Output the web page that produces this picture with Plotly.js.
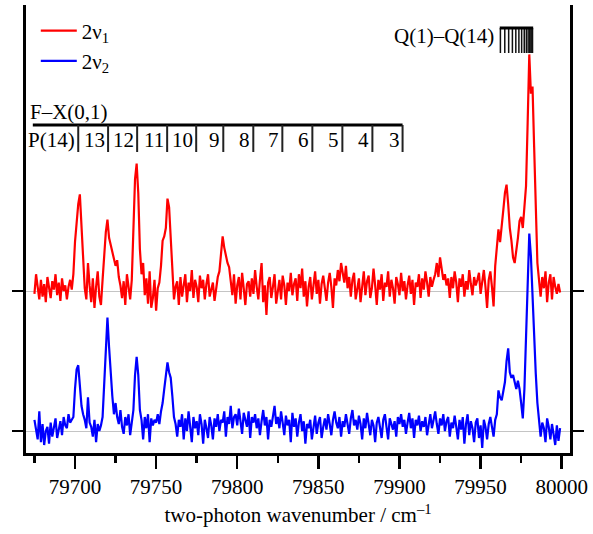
<!DOCTYPE html>
<html>
<head>
<meta charset="utf-8">
<script src="https://cdn.plot.ly/plotly-3.0.1.min.js"></script>
<style>
  html, body { margin: 0; padding: 0; background: #fff; }
  #chart { width: 593px; height: 534px; }
</style>
</head>
<body>
<div id="chart"></div>
<script>
// Two-photon excitation spectra, 1 cm^-1 grid starting at wnStart
const wnStart = 79675;
const wnStep = 1;

// 2ν1 signal (arb. units)
const red2v1 = [
  -2, 12, 3, -6, 8, -4, 5, -8, 10, 2,
  -5, 7, 1, 12, -3, 6, -7, 9, 0, 4,
  -6, 3, 8, 1, 12, 35, 52, 62, 69, 45,
  15, 2, -6, 20, 4, -8, 9, -12, 3, 14,
  -4, -10, 8, 25, 42, 51, 38, 33, 28, 24,
  18, 22, 10, 4, -5, 7, -10, 12, 2, -6,
  8, 40, 80, 91, 70, 30, 12, 20, -3, 9,
  -9, 14, -12, -5, 8, -14, 2, 6, 18, 36,
  39, 45, 66, 60, 38, 14, -6, 3, 7, -10,
  10, -4, 5, 12, -8, 6, 0, 15, -5, 8,
  3, -8, 11, 2, 8, -6, 5, 12, -4, 2,
  6, -7, 3, 10, 14, 28, 39, 31, 24, 20,
  17, 8, -3, 12, -9, 4, 10, -6, 13, 2,
  -10, 5, 7, -4, 9, -2, 15, 3, -6, 8,
  20, -8, 4, -17, 6, 10, -5, 3, 12, -9,
  2, 8, -6, 11, 4, -10, 6, 0, 13, -3,
  5, 9, -7, 12, 2, 16, -4, 7, -11, 3,
  10, -6, 4, 14, -2, 8, -9, 5, 11, 0,
  -7, 6, 13, 3, -12, 9, 4, 15, 7, 20,
  12, 6, 18, 2, 10, -4, 8, 13, -6, 3,
  9, -8, 5, 14, -3, 7, 11, -5, 2, 16,
  4, -10, 8, 1, 12, -7, 6, 3, 14, -4,
  8, 2, -9, 10, 5, -3, 13, 0, 7, -6,
  4, 11, -2, 8, -10, 6, 3, 12, -5, 9,
  1, 14, 6, -4, 10, 3, 8, 12, 20, 10,
  24, 15, 8, 12, 4, 9, -5, 10, 2, 14,
  6, -8, 9, 3, 12, -4, 7, 1, 15, 5,
  -3, 10, 4, 8, 13, -2, 6, 15, 3, -12,
  8, 14, 3, -11, 18, 30, 44, 35, 50, 58,
  70, 76, 62, 45, 36, 24, 20, 28, 38, 50,
  53, 45, 60, 75, 120, 169, 141, 146, 103, 49,
  20, 8, -4, 10, 2, 14, -8, 6, 12, -6,
  10, 3, -2, 5, -1
];

// 2ν2 signal (arb. units)
const blue2v2 = [
  8, 2, -6, 14, -8, 5, -10, 0, 3, -9,
  6, -4, 2, 9, -5, 1, 7, -3, 10, 4,
  2, 12, 6, 8, 10, 30, 44, 47, 30, 18,
  12, 8, 2, 24, 6, 3, -4, 8, -8, 5,
  0, 4, 10, 35, 55, 81, 60, 40, 25, 12,
  20, 10, 5, 15, 3, -2, 10, 4, 12, -3,
  5, 15, 40, 53, 40, 15, 8, -6, 10, 2,
  12, -8, 9, 4, 8, 6, 12, 5, 14, 20,
  30, 40, 49, 42, 38, 25, 10, 5, -4, 8,
  3, 12, -6, 9, 0, 14, 4, -8, 10, 2,
  7, -3, 12, 5, -9, 8, 2, -5, 10, 4,
  -6, 9, 3, 12, 0, 8, 6, 14, -4, 10,
  5, 18, 2, 10, 12, 4, 16, 6, -2, 13,
  8, 3, 14, -5, 10, 6, 12, 2, 9, -3,
  7, 15, 4, 10, -6, 8, 3, 12, 18, 5,
  10, 2, 14, 6, -3, 11, 4, 8, -8, 13,
  3, 9, -4, 6, 12, 0, 7, -9, 5, 2,
  8, -6, 4, 11, -2, 6, 10, -5, 3, 9,
  1, 12, 5, -3, 8, 14, 6, 2, 10, -4,
  7, 3, 12, 6, -2, 9, 15, 4, 8, 1,
  11, 5, -6, 9, 2, 13, 6, -3, 8, 4,
  -8, 6, 10, 2, -5, 8, 12, 3, -6, 9,
  4, 1, 7, -4, 10, 5, 12, 3, 8, -2,
  6, 13, 2, 9, -5, 8, 4, 11, 0, 7,
  3, 10, -3, 6, 12, 2, 8, 14, 5, -2,
  9, 4, 12, 0, 7, 10, -4, 6, 2, 11,
  3, -6, 8, 1, 10, -9, 5, 12, -3, 7,
  2, -8, 6, 9, -5, 4, -12, 8, 3, -6,
  5, 10, 3, -4, 8, 12, 29, 24, 22, 30,
  35, 50, 59, 42, 38, 40, 34, 30, 36, 30,
  20, 9, 30, 65, 94, 141, 125, 95, 60, 41,
  20, 8, -4, 6, 2, -8, 9, 3, -6, 5,
  -2, -10, 4, -7, 2
];

// F–X(0,1) P-branch line positions and labels
const pLines = [79702, 79720.4, 79738.3, 79756.8, 79774.7, 79791.4, 79809.9, 79827.8, 79846.3, 79864.8, 79883.3, 79901.9];
const pLabels = ['P(14)', '13', '12', '11', '10', '9', '8', '7', '6', '5', '4', '3'];

// Q(1)–Q(14) line positions
const qLines = [79982.0, 79981.6, 79981.0, 79980.3, 79979.3, 79978.2, 79976.9, 79975.3, 79973.6, 79971.7, 79969.6, 79967.3, 79964.9, 79962.2];

const xTickVals = [79700, 79750, 79800, 79850, 79900, 79950, 80000];
const yBaselines = [0, 100];

// drawing constants
const offsetRed = 100;
const serif = 'Liberation Serif, Times New Roman, serif';
const fs = 21;

const wn = red2v1.map((_, i) => wnStart + i * wnStep);

// comb geometry (y in data units)
const pTop = 218.6, pBot = 199.3, pStartX = 79674;
const qTop = 287.9, qBot = 270;

const pCombX = [], pCombY = [];
pLines.forEach(v => { pCombX.push(v, v, null); pCombY.push(pTop, pBot, null); });
const qCombX = [], qCombY = [];
qLines.forEach(v => { qCombX.push(v, v, null); qCombY.push(qTop, qBot, null); });

const traces = [
  { x: wn, y: red2v1.map(v => v + offsetRed), type: 'scatter', mode: 'lines',
    name: '2ν<sub>1</sub>', line: { color: '#ff0000', width: 2.2 } },
  { x: wn, y: blue2v2, type: 'scatter', mode: 'lines',
    name: '2ν<sub>2</sub>', line: { color: '#0000ff', width: 2.2 } },
  // P-branch comb
  { x: [pStartX, pLines[pLines.length - 1]], y: [pTop, pTop], mode: 'lines', type: 'scatter',
    showlegend: false, hoverinfo: 'skip', line: { color: '#000', width: 3 } },
  { x: pCombX, y: pCombY, mode: 'lines', type: 'scatter', showlegend: false,
    hoverinfo: 'skip', line: { color: '#222', width: 2 } },
  // Q-branch comb
  { x: qCombX, y: qCombY, mode: 'lines', type: 'scatter', showlegend: false,
    hoverinfo: 'skip', line: { color: '#111', width: 1.5 } },
  { x: [Math.min(...qLines) - 0.4, Math.max(...qLines) + 0.4], y: [qTop, qTop], mode: 'lines',
    type: 'scatter', showlegend: false, hoverinfo: 'skip', line: { color: '#000', width: 3 } }
];

const annotations = [
  { text: 'F–X(0,1)', xref: 'x', yref: 'y', x: 79671, y: 227.9, xanchor: 'left', yanchor: 'middle',
    showarrow: false, font: { family: serif, size: fs, color: '#000' } },
  { text: 'Q(1)–Q(14)', xref: 'x', yref: 'y', x: Math.min(...qLines) - 2.5, y: 282, xanchor: 'right', yanchor: 'middle',
    showarrow: false, font: { family: serif, size: fs, color: '#000' } }
];
pLines.forEach((v, i) => {
  annotations.push({ text: pLabels[i], xref: 'x', yref: 'y', x: v, y: 207.9, xanchor: 'right', yanchor: 'middle',
    xshift: -1, showarrow: false, font: { family: serif, size: fs, color: '#000' } });
});

const layout = {
  width: 593, height: 534,
  margin: { l: 26, r: 23, t: 5, b: 81 },
  paper_bgcolor: '#fff', plot_bgcolor: '#fff',
  font: { family: serif, size: fs, color: '#000' },
  showlegend: true,
  legend: { x: 0.018, y: 0.988, xanchor: 'left', yanchor: 'top', bgcolor: 'rgba(0,0,0,0)',
    itemwidth: 36,
    font: { family: serif, size: fs, color: '#000' }, tracegroupgap: 0 },
  xaxis: {
    range: [79669.8, 80005.1],
    tickvals: xTickVals, ticktext: xTickVals.map(String),
    ticks: 'outside', ticklen: 13, tickwidth: 2.5, tickcolor: '#000',
    minor: { dtick: 25, tick0: 79675, ticks: 'outside', ticklen: 7, tickwidth: 2.5, tickcolor: '#000', showgrid: false },
    showline: true, linewidth: 3, linecolor: '#000', mirror: false,
    showgrid: false, zeroline: false,
    tickfont: { family: serif, size: fs, color: '#000' },
    title: { text: 'two-photon wavenumber / cm<sup>–1</sup>', font: { family: serif, size: fs, color: '#000' }, standoff: 10 }
  },
  yaxis: {
    range: [-15.7, 304.3],
    tickvals: yBaselines, showticklabels: false,
    ticks: 'outside', ticklen: 11, tickwidth: 2.5, tickcolor: '#000',
    showline: true, linewidth: 3, linecolor: '#000', mirror: 'ticks',
    showgrid: true, gridcolor: '#c4c4c4', gridwidth: 1, zeroline: false
  },
  annotations: annotations
};

Plotly.newPlot('chart', traces, layout, { displayModeBar: false, staticPlot: true });
</script>
</body>
</html>
